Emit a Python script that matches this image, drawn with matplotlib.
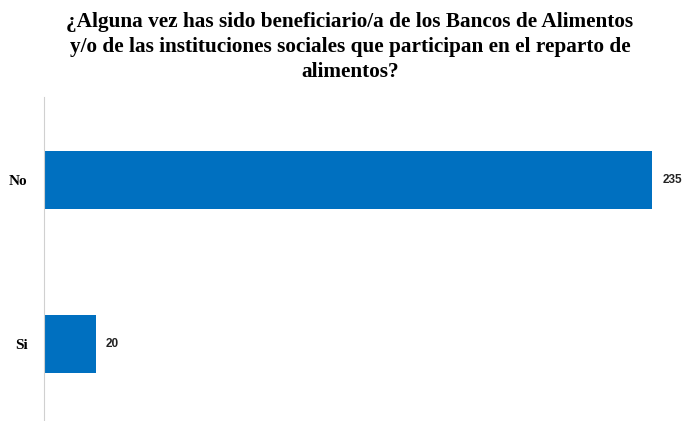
import matplotlib.pyplot as plt

categories = ['Si', 'No']
values = [20, 235]
title = ('¿Alguna vez has sido beneficiario/a de los Bancos de Alimentos\n'
         'y/o de las instituciones sociales que participan en el reparto de\n'
         'alimentos?')

fig = plt.figure(figsize=(6.84, 4.21), dpi=100)
ax = fig.add_axes([44 / 684, 1 / 421, 640 / 684, 323 / 421])

y = range(len(categories))
ax.barh(y, values, height=0.354, color='#0070c0')
ax.set_xlim(0, 235 * 640 / 608)
ax.set_ylim(-0.463, 1.506)

for i, v in zip(y, values):
    ax.text(v + 4, i, str(v), va='center', ha='left', fontsize=8.5,
            fontweight='bold', family='Liberation Sans', color='#222222')

ax.set_yticks(list(y))
ax.set_yticklabels(categories, family='Liberation Serif', fontweight='bold',
                   fontsize=11)
ax.tick_params(axis='y', length=0, pad=12)
ax.set_xticks([])
for s in ['top', 'right', 'bottom']:
    ax.spines[s].set_visible(False)
ax.spines['left'].set_color('#d0d0d0')

fig.text(350 / 684, 1 - 12 / 421, title, ha='center', va='top',
         family='Liberation Serif', fontweight='bold', fontsize=15.3,
         linespacing=1.33)

fig.savefig('out.png', dpi=100)
